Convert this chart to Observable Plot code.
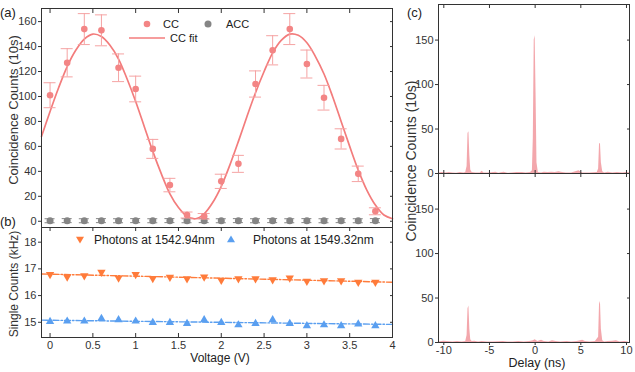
<!DOCTYPE html>
<html><head><meta charset="utf-8">
<script src="https://cdn.jsdelivr.net/npm/d3@7"></script>
<script src="https://cdn.jsdelivr.net/npm/@observablehq/plot@0.6"></script>
<style>
body{margin:0;background:#fff;}
#root{position:relative;width:635px;height:372px;overflow:hidden;font-family:"Liberation Sans",Arial,sans-serif;color:#333;}
#root svg{overflow:visible;}
.layer{position:absolute;left:0;top:0;}
.t{position:absolute;white-space:nowrap;line-height:1;color:#222;}
.rot{position:absolute;white-space:nowrap;line-height:1;color:#333;transform:translate(-50%,-50%) rotate(-90deg);}
.sym svg{display:block;}
</style></head><body><div id="root"></div>
<script>
// ---------- data ----------
const voltage = [0,0.2,0.4,0.6,0.8,1.0,1.2,1.4,1.6,1.8,2.0,2.2,2.4,2.6,2.8,3.0,3.2,3.4,3.6,3.8];
const ccCounts = [101,127,154,153,123,106,58,29,5,4,32,46,110,137,154,126,99,66,38,8];
const ccErr = [10,11.3,12.4,12.4,11.1,10.3,7.6,5.4,2.4,2.2,5.7,6.8,10.5,11.7,12.4,11.2,9.9,8.1,6.2,2.8];
const accCounts = [0.4,0.5,0.4,0.5,0.4,0.5,0.4,0.5,0.4,0.5,0.4,0.5,0.4,0.5,0.4,0.5,0.4,0.5,0.4,0.5];
const accErr = [1.6,1.6,1.6,1.6,1.6,1.6,1.6,1.6,1.6,1.6,1.6,1.6,1.6,1.6,1.6,1.6,1.6,1.6,1.6,1.6];
const fitVoltage = [-0.1,0,0.1,0.2,0.3,0.4,0.5,0.6,0.7,0.8,0.9,1.0,1.1,1.2,1.3,1.4,1.5,1.6,1.7,1.8,1.9,2.0,2.1,2.2,2.3,2.4,2.5,2.6,2.7,2.8,2.9,3.0,3.1,3.2,3.3,3.4,3.5,3.6,3.7,3.8,3.9,4.0];
const fitCounts = [68,88,107,124,137,146,150,148,141,130,114,96,76,56,38,22,11,4,2,6,15,28,45,64,84,103,120,135,145,150,149,143,132,118,100,80,60,41,25,13,5,2];
const singles1542 = [16.79,16.70,16.75,16.88,16.66,16.79,16.64,16.69,16.63,16.70,16.58,16.63,16.63,16.60,16.66,16.54,16.56,16.56,16.50,16.50];
const singles1549 = [15.03,15.04,15.04,15.14,15.09,15.04,14.99,14.99,14.95,15.09,14.99,14.90,14.95,15.09,14.95,14.87,14.90,14.87,14.93,14.87];
const trendVoltage = [-0.1,4.0];
const trend1542 = [16.81,16.50];
const trend1549 = [15.08,14.92];
const voltageTicks = [0,0.5,1,1.5,2,2.5,3,3.5,4];
const ccTicks = [0,20,40,60,80,100,120,140,160];
const singlesTicks = [15,16,17,18];

const delayTop = [-10.6,-10.2,-9.8,-9.4,-9.0,-8.6,-8.2,-7.8,-7.6,-7.45,-7.35,-7.25,-7.15,-7.05,-6.9,-6.5,-6.0,-5.8,-5.6,-5.0,-4.3,-4.0,-3.4,-3.0,-2.5,-2.0,-1.4,-1.0,-0.5,-0.3,-0.2,-0.1,0,0.1,0.2,0.35,0.7,1.0,1.4,1.8,2.2,2.6,3.0,3.4,4.0,4.8,5.2,6.0,6.8,6.95,7.05,7.15,7.25,7.4,7.6,8.0,8.5,9.0,9.6,10.0,10.4];
const countsTop = [0.5,1,0.5,1,0.5,0.3,1,0.5,1,8,45,47,20,4,1,0.5,0.5,2.5,0.5,0.5,1.5,0.3,1.5,0.3,0.5,1,1,0.5,1,3,40,150,155,90,12,1,0.5,1.5,1,1.5,1,2,1,0.5,0.5,3,0.5,0.5,1,5,33,34,12,2,0.5,1.5,0.5,1,0.5,1,0.5];
const delayBottom = [-10.6,-10.0,-9.6,-9.0,-8.5,-8.0,-7.6,-7.45,-7.35,-7.25,-7.15,-7.05,-6.9,-6.6,-6.2,-5.8,-5.2,-4.6,-3.5,-3.0,-2.4,-1.8,-1.2,-0.6,-0.2,0,0.3,0.7,1.0,1.5,1.9,2.3,2.8,3.5,4.0,4.6,5.2,5.5,6.0,6.6,6.95,7.05,7.15,7.25,7.4,7.6,8.0,8.5,8.9,9.3,9.8,10.2];
const countsBottom = [0.5,1.5,1,0.5,1,0.5,1,8,38,41,15,3,1,1.5,0.5,1,0.5,0.5,1,0.5,0.5,1,0.5,1,2,3,1,2.5,1,0.5,2,1,0.5,1,0.5,1,2.5,1,0.5,1,6,43,46,15,2,0.5,1,1.5,2,0.5,1,0.5];
const delayTicks = [-10,-5,0,5,10];
const histTicks = [0,50,100,150];

// ---------- styles ----------
const FONT = '"Liberation Sans", Arial, sans-serif';
const C_CC = "#f38585", C_CCERR = "#f5a3a3", C_FIT = "#f37c7c", C_ACC = "#858585";
const C_OR = "#ff7b3a", C_BL = "#5a9ff0", C_HIST = "#f2a2a8", C_AX = "#333";
const root = document.getElementById("root");
const zip = (xs, ys, extra = {}) => xs.map((x, i) => Object.assign({x, y: ys[i]}, Object.fromEntries(Object.entries(extra).map(([k, v]) => [k, v[i]]))));
const plain = d => String(d);

const triangleDown = {
  draw(context, size) {
    const y = -Math.sqrt(size / (Math.sqrt(3) * 3));
    context.moveTo(0, -y * 2);
    context.lineTo(-Math.sqrt(3) * y, y);
    context.lineTo(Math.sqrt(3) * y, y);
    context.closePath();
  }
};

function base(m) {
  return {width: 635, height: 372, marginLeft: m[0], marginRight: m[1], marginTop: m[2], marginBottom: m[3],
    style: {background: "transparent", fontFamily: FONT, fontSize: "11px", color: C_AX, overflow: "visible"}};
}
function add(svg) { svg.classList.add("layer"); root.appendChild(svg); }
const blank = () => "";

// ---------- panel (a) ----------
const cc = zip(voltage, ccCounts, {e: ccErr});
const acc = zip(voltage, accCounts, {e: accErr});
const fit = zip(fitVoltage, fitCounts);
add(Plot.plot({
  ...base([41, 243, 8, 145]),
  x: {domain: [-0.1, 4]},
  y: {domain: [-5, 170.5]},
  marks: [
    Plot.axisY({ticks: ccTicks, anchor: "left", tickSize: 3, tickPadding: 2, tickFormat: plain, label: null}),
    Plot.axisY({ticks: ccTicks, anchor: "right", tickSize: -3, tickFormat: blank, label: null}),
    Plot.axisX({ticks: voltageTicks, anchor: "top", tickSize: -4, tickFormat: blank, label: null}),
    Plot.axisX({ticks: voltageTicks, anchor: "bottom", tickSize: 4, tickFormat: blank, label: null}),
    Plot.ruleX(acc, {x: "x", y1: d => d.y - d.e, y2: d => d.y + d.e, stroke: C_ACC, strokeWidth: 1}),
    Plot.ruleY(acc, {y: d => d.y - d.e, x1: "x", x2: "x", insetLeft: -5, insetRight: -5, stroke: C_ACC, strokeWidth: 1}),
    Plot.ruleY(acc, {y: d => d.y + d.e, x1: "x", x2: "x", insetLeft: -5, insetRight: -5, stroke: C_ACC, strokeWidth: 1}),
    Plot.dot(acc, {x: "x", y: "y", r: 3.5, fill: C_ACC}),
    Plot.line(fit, {x: "x", y: "y", curve: "catmull-rom", stroke: C_FIT, strokeWidth: 1.7}),
    Plot.ruleX(cc, {x: "x", y1: d => d.y - d.e, y2: d => d.y + d.e, stroke: C_CCERR, strokeWidth: 1}),
    Plot.ruleY(cc, {y: d => d.y - d.e, x1: "x", x2: "x", insetLeft: -6, insetRight: -6, stroke: C_CCERR, strokeWidth: 1}),
    Plot.ruleY(cc, {y: d => d.y + d.e, x1: "x", x2: "x", insetLeft: -6, insetRight: -6, stroke: C_CCERR, strokeWidth: 1}),
    Plot.dot(cc, {x: "x", y: "y", r: 3.3, fill: C_CC}),
    Plot.frame({stroke: C_AX})
  ]
}));

// ---------- panel (b) ----------
const s1 = zip(voltage, singles1542), s2 = zip(voltage, singles1549);
const t1 = zip(trendVoltage, trend1542), t2 = zip(trendVoltage, trend1549);
add(Plot.plot({
  ...base([41, 243, 227, 35]),
  x: {domain: [-0.1, 4]},
  y: {domain: [14.43, 18.55]},
  marks: [
    Plot.axisY({ticks: singlesTicks, anchor: "left", tickSize: 3, tickPadding: 2, tickFormat: plain, label: null}),
    Plot.axisY({ticks: singlesTicks, anchor: "right", tickSize: -3, tickFormat: blank, label: null}),
    Plot.axisX({ticks: voltageTicks, anchor: "bottom", tickSize: -4, tickFormat: blank, label: null}),
    Plot.axisX({ticks: voltageTicks, anchor: "bottom", tickSize: 0, tickPadding: 4, tickFormat: plain, label: null}),
    Plot.line(t1, {x: "x", y: "y", stroke: C_OR, strokeWidth: 1.4, strokeDasharray: "6,2,1.5,2"}),
    Plot.line(t2, {x: "x", y: "y", stroke: C_BL, strokeWidth: 1.4, strokeDasharray: "6,2,1.5,2"}),
    Plot.dot(s1, {x: "x", y: "y", r: 3.1, symbol: triangleDown, fill: C_OR}),
    Plot.dot(s2, {x: "x", y: "y", r: 3.1, symbol: "triangle", fill: C_BL}),
    Plot.frame({stroke: C_AX})
  ]
}));

// ---------- panel (c) ----------
const hTop = zip(delayTop, countsTop), hBot = zip(delayBottom, countsBottom);
function hist(data, m, bottomLabels) {
  return Plot.plot({
    ...base(m),
    x: {domain: [-10.58, 10.33]},
    y: {domain: [0, 190]},
    marks: [
      Plot.areaY(data, {x: "x", y: "y", fill: C_HIST, fillOpacity: 0.95}),
      Plot.axisY({ticks: histTicks, anchor: "left", tickSize: 3, tickPadding: 2, tickFormat: plain, label: null}),
      Plot.axisY({ticks: histTicks, anchor: "right", tickSize: -3, tickFormat: blank, label: null}),
      Plot.axisX({ticks: delayTicks, anchor: "top", tickSize: -3, tickFormat: blank, label: null}),
      bottomLabels
        ? Plot.axisX({ticks: delayTicks, anchor: "bottom", tickSize: 3, tickPadding: 1, tickFormat: plain, label: null})
        : Plot.axisX({ticks: delayTicks, anchor: "bottom", tickSize: -3, tickFormat: blank, label: null}),
      Plot.frame({stroke: C_AX})
    ]
  });
}
add(hist(hTop, [438, 6, 4, 199], false));
add(hist(hBot, [438, 6, 173, 30], true));

// ---------- texts and legends ----------
function text(str, x, y, size, extra = "") {
  const d = document.createElement("div");
  d.className = "t"; d.textContent = str;
  d.style.cssText += `left:${x}px;top:${y}px;font-size:${size}px;transform:translateY(-50%);${extra}`;
  root.appendChild(d);
}
function rot(str, cx, cy, size) {
  const d = document.createElement("div");
  d.className = "rot"; d.textContent = str;
  d.style.cssText += `left:${cx}px;top:${cy}px;font-size:${size}px;`;
  root.appendChild(d);
}
function sym(svgInner, cx, cy, w = 14, h = 14) {
  const d = document.createElement("div");
  d.className = "sym";
  d.style.cssText = `position:absolute;left:${cx - w / 2}px;top:${cy - h / 2}px;width:${w}px;height:${h}px;`;
  d.innerHTML = `<svg width="${w}" height="${h}" viewBox="${-w / 2} ${-h / 2} ${w} ${h}">${svgInner}</svg>`;
  root.appendChild(d);
}
text("(a)", 0, 12, 13);
text("(b)", 0, 221, 13);
text("(c)", 407, 12, 13);
rot("Coincidence Counts (10s)", 13, 110, 13);
rot("Single Counts (kHz)", 14, 284, 12);
rot("Coincidence Counts (10s)", 411, 161, 14);
text("Voltage (V)", 220, 358, 12, "transform:translate(-50%,-50%);");
text("Delay (ns)", 537, 363, 12.5, "transform:translate(-50%,-50%);");

// legend (a)
sym(`<circle r="3.3" fill="${C_CC}"/>`, 147, 24);
text("CC", 163, 24, 11);
sym(`<circle r="3.5" fill="${C_ACC}"/>`, 208, 24);
text("ACC", 226, 24, 11);
sym(`<line x1="-18" x2="18" stroke="${C_FIT}" stroke-width="1.7"/>`, 147, 38, 40, 6);
text("CC fit", 170, 38, 11);
// legend (b)
sym(`<path d="M-4,-3.2L4,-3.2L0,3.6Z" fill="${C_OR}"/>`, 80, 240);
text("Photons at 1542.94nm", 94, 240, 12);
sym(`<path d="M-4,3.2L4,3.2L0,-3.6Z" fill="${C_BL}"/>`, 231, 239);
text("Photons at 1549.32nm", 253, 240, 12);
</script>
</body></html>
